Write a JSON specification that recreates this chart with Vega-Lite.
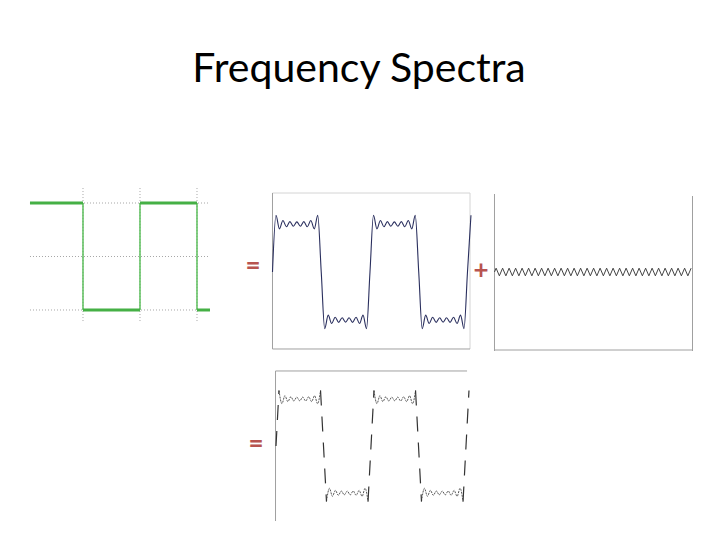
{
  "$schema": "https://vega.github.io/schema/vega-lite/v6.json",
  "padding": {"left": 24, "top": 49, "right": 0, "bottom": 0},
  "background": "#ffffff",
  "title": {"text": "Frequency Spectra", "font": "Lato", "fontSize": 41, "fontWeight": "normal", "color": "#000000", "anchor": "middle", "offset": 95},
  "spacing": 13,
  "config": {"view": {"stroke": null}},
  "datasets": {
    "p1grid": [
      {"t": 1, "v": 1.28, "t2": 1, "v2": -1.243},
      {"t": 2, "v": 1.28, "t2": 2, "v2": -1.243},
      {"t": 3, "v": 1.28, "t2": 3, "v2": -1.243},
      {"t": 0.07, "v": 1, "t2": 3.228, "v2": 1},
      {"t": 0.07, "v": 0, "t2": 3.228, "v2": 0},
      {"t": 0.07, "v": -1, "t2": 3.228, "v2": -1}
    ],
    "p1flat": [
      {"t": 0.07, "v": 1, "t2": 1, "v2": 1},
      {"t": 1, "v": -1, "t2": 2, "v2": -1},
      {"t": 2, "v": 1, "t2": 3, "v2": 1},
      {"t": 3, "v": -1, "t2": 3.228, "v2": -1}
    ],
    "p1edge": [
      {"t": 1, "v": 1, "t2": 1, "v2": -1},
      {"t": 2, "v": -1, "t2": 2, "v2": 1},
      {"t": 3, "v": 1, "t2": 3, "v2": -1}
    ],
    "p2dark": [
      {"t": 0, "v": -1.604, "t2": 0, "v2": 1.646},
      {"t": 0, "v": -1.604, "t2": 2.026, "v2": -1.604}
    ],
    "p2light": [
      {"t": 0, "v": 1.646, "t2": 2.026, "v2": 1.646},
      {"t": 2.026, "v": 1.646, "t2": 2.026, "v2": -1.604}
    ],
    "p2wave": [
      {"t": 0, "v": 0}, {"t": 0.0357, "v": 1.181}, {"t": 0.0714, "v": 0.899}, {"t": 0.1071, "v": 1.072},
      {"t": 0.1429, "v": 0.942}, {"t": 0.1786, "v": 1.05}, {"t": 0.2143, "v": 0.954}, {"t": 0.25, "v": 1.045},
      {"t": 0.2857, "v": 0.954}, {"t": 0.3214, "v": 1.05}, {"t": 0.3571, "v": 0.942}, {"t": 0.3929, "v": 1.072},
      {"t": 0.4286, "v": 0.899}, {"t": 0.4643, "v": 1.181}, {"t": 0.5, "v": 0},
      {"t": 0.5357, "v": -1.181}, {"t": 0.5714, "v": -0.899}, {"t": 0.6071, "v": -1.072}, {"t": 0.6429, "v": -0.942},
      {"t": 0.6786, "v": -1.05}, {"t": 0.7143, "v": -0.954}, {"t": 0.75, "v": -1.045}, {"t": 0.7857, "v": -0.954},
      {"t": 0.8214, "v": -1.05}, {"t": 0.8571, "v": -0.942}, {"t": 0.8929, "v": -1.072}, {"t": 0.9286, "v": -0.899},
      {"t": 0.9643, "v": -1.181}, {"t": 1, "v": 0},
      {"t": 1.0357, "v": 1.181}, {"t": 1.0714, "v": 0.899}, {"t": 1.1071, "v": 1.072}, {"t": 1.1429, "v": 0.942},
      {"t": 1.1786, "v": 1.05}, {"t": 1.2143, "v": 0.954}, {"t": 1.25, "v": 1.045}, {"t": 1.2857, "v": 0.954},
      {"t": 1.3214, "v": 1.05}, {"t": 1.3571, "v": 0.942}, {"t": 1.3929, "v": 1.072}, {"t": 1.4286, "v": 0.899},
      {"t": 1.4643, "v": 1.181}, {"t": 1.5, "v": 0},
      {"t": 1.5357, "v": -1.181}, {"t": 1.5714, "v": -0.899}, {"t": 1.6071, "v": -1.072}, {"t": 1.6429, "v": -0.942},
      {"t": 1.6786, "v": -1.05}, {"t": 1.7143, "v": -0.954}, {"t": 1.75, "v": -1.045}, {"t": 1.7857, "v": -0.954},
      {"t": 1.8214, "v": -1.05}, {"t": 1.8571, "v": -0.942}, {"t": 1.8929, "v": -1.072}, {"t": 1.9286, "v": -0.899},
      {"t": 1.9643, "v": -1.181}, {"t": 2, "v": 0}, {"t": 2.0357, "v": 1.181}
    ],
    "p2signs": [
      {"t": -0.2, "v": 0.125, "s": "="},
      {"t": 2.138, "v": 0.02, "s": "+"}
    ],
    "p3frame": [
      {"t": 0, "v": 1.625, "t2": 0, "v2": -1.646},
      {"t": 0, "v": -1.625, "t2": 2.031, "v2": -1.625},
      {"t": 2.031, "v": 1.583, "t2": 2.031, "v2": -1.646}
    ],
    "p3wave": [
      {"t": 0, "v": 0},
      {"t": 0.0167, "v": 0.08}, {"t": 0.05, "v": -0.08}, {"t": 0.0833, "v": 0.08}, {"t": 0.1167, "v": -0.08},
      {"t": 0.15, "v": 0.08}, {"t": 0.1833, "v": -0.08}, {"t": 0.2167, "v": 0.08}, {"t": 0.25, "v": -0.08},
      {"t": 0.2833, "v": 0.08}, {"t": 0.3167, "v": -0.08}, {"t": 0.35, "v": 0.08}, {"t": 0.3833, "v": -0.08},
      {"t": 0.4167, "v": 0.08}, {"t": 0.45, "v": -0.08}, {"t": 0.4833, "v": 0.08}, {"t": 0.5167, "v": -0.08},
      {"t": 0.55, "v": 0.08}, {"t": 0.5833, "v": -0.08}, {"t": 0.6167, "v": 0.08}, {"t": 0.65, "v": -0.08},
      {"t": 0.6833, "v": 0.08}, {"t": 0.7167, "v": -0.08}, {"t": 0.75, "v": 0.08}, {"t": 0.7833, "v": -0.08},
      {"t": 0.8167, "v": 0.08}, {"t": 0.85, "v": -0.08}, {"t": 0.8833, "v": 0.08}, {"t": 0.9167, "v": -0.08},
      {"t": 0.95, "v": 0.08}, {"t": 0.9833, "v": -0.08}, {"t": 1.0167, "v": 0.08}, {"t": 1.05, "v": -0.08},
      {"t": 1.0833, "v": 0.08}, {"t": 1.1167, "v": -0.08}, {"t": 1.15, "v": 0.08}, {"t": 1.1833, "v": -0.08},
      {"t": 1.2167, "v": 0.08}, {"t": 1.25, "v": -0.08}, {"t": 1.2833, "v": 0.08}, {"t": 1.3167, "v": -0.08},
      {"t": 1.35, "v": 0.08}, {"t": 1.3833, "v": -0.08}, {"t": 1.4167, "v": 0.08}, {"t": 1.45, "v": -0.08},
      {"t": 1.4833, "v": 0.08}, {"t": 1.5167, "v": -0.08}, {"t": 1.55, "v": 0.08}, {"t": 1.5833, "v": -0.08},
      {"t": 1.6167, "v": 0.08}, {"t": 1.65, "v": -0.08}, {"t": 1.6833, "v": 0.08}, {"t": 1.7167, "v": -0.08},
      {"t": 1.75, "v": 0.08}, {"t": 1.7833, "v": -0.08}, {"t": 1.8167, "v": 0.08}, {"t": 1.85, "v": -0.08},
      {"t": 1.8833, "v": 0.08}, {"t": 1.9167, "v": -0.08}, {"t": 1.95, "v": 0.08}, {"t": 1.9833, "v": -0.08},
      {"t": 2.0167, "v": 0.08}
    ],
    "p4frame": [
      {"t": -0.005, "v": 1.596, "t2": -0.005, "v2": -1.596},
      {"t": -0.005, "v": 1.596, "t2": 2.011, "v2": 1.596}
    ],
    "p4flat": [
      {"seg": 1, "t": 0.03125, "v": 1.18}, {"seg": 1, "t": 0.0625, "v": 0.9}, {"seg": 1, "t": 0.09375, "v": 1.07},
      {"seg": 1, "t": 0.125, "v": 0.944}, {"seg": 1, "t": 0.15625, "v": 1.048}, {"seg": 1, "t": 0.1875, "v": 0.957},
      {"seg": 1, "t": 0.21875, "v": 1.04}, {"seg": 1, "t": 0.25, "v": 0.96}, {"seg": 1, "t": 0.28125, "v": 1.04},
      {"seg": 1, "t": 0.3125, "v": 0.957}, {"seg": 1, "t": 0.34375, "v": 1.048}, {"seg": 1, "t": 0.375, "v": 0.944},
      {"seg": 1, "t": 0.40625, "v": 1.07}, {"seg": 1, "t": 0.4375, "v": 0.9}, {"seg": 1, "t": 0.46875, "v": 1.18},
      {"seg": 2, "t": 0.53125, "v": -1.18}, {"seg": 2, "t": 0.5625, "v": -0.9}, {"seg": 2, "t": 0.59375, "v": -1.07},
      {"seg": 2, "t": 0.625, "v": -0.944}, {"seg": 2, "t": 0.65625, "v": -1.048}, {"seg": 2, "t": 0.6875, "v": -0.957},
      {"seg": 2, "t": 0.71875, "v": -1.04}, {"seg": 2, "t": 0.75, "v": -0.96}, {"seg": 2, "t": 0.78125, "v": -1.04},
      {"seg": 2, "t": 0.8125, "v": -0.957}, {"seg": 2, "t": 0.84375, "v": -1.048}, {"seg": 2, "t": 0.875, "v": -0.944},
      {"seg": 2, "t": 0.90625, "v": -1.07}, {"seg": 2, "t": 0.9375, "v": -0.9}, {"seg": 2, "t": 0.96875, "v": -1.18},
      {"seg": 3, "t": 1.03125, "v": 1.18}, {"seg": 3, "t": 1.0625, "v": 0.9}, {"seg": 3, "t": 1.09375, "v": 1.07},
      {"seg": 3, "t": 1.125, "v": 0.944}, {"seg": 3, "t": 1.15625, "v": 1.048}, {"seg": 3, "t": 1.1875, "v": 0.957},
      {"seg": 3, "t": 1.21875, "v": 1.04}, {"seg": 3, "t": 1.25, "v": 0.96}, {"seg": 3, "t": 1.28125, "v": 1.04},
      {"seg": 3, "t": 1.3125, "v": 0.957}, {"seg": 3, "t": 1.34375, "v": 1.048}, {"seg": 3, "t": 1.375, "v": 0.944},
      {"seg": 3, "t": 1.40625, "v": 1.07}, {"seg": 3, "t": 1.4375, "v": 0.9}, {"seg": 3, "t": 1.46875, "v": 1.18},
      {"seg": 4, "t": 1.53125, "v": -1.18}, {"seg": 4, "t": 1.5625, "v": -0.9}, {"seg": 4, "t": 1.59375, "v": -1.07},
      {"seg": 4, "t": 1.625, "v": -0.944}, {"seg": 4, "t": 1.65625, "v": -1.048}, {"seg": 4, "t": 1.6875, "v": -0.957},
      {"seg": 4, "t": 1.71875, "v": -1.04}, {"seg": 4, "t": 1.75, "v": -0.96}, {"seg": 4, "t": 1.78125, "v": -1.04},
      {"seg": 4, "t": 1.8125, "v": -0.957}, {"seg": 4, "t": 1.84375, "v": -1.048}, {"seg": 4, "t": 1.875, "v": -0.944},
      {"seg": 4, "t": 1.90625, "v": -1.07}, {"seg": 4, "t": 1.9375, "v": -0.9}, {"seg": 4, "t": 1.96875, "v": -1.18}
    ],
    "p4edge": [
      {"seg": 0, "t": 0, "v": 0}, {"seg": 0, "t": 0.03125, "v": 1.18},
      {"seg": 1, "t": 0.46875, "v": 1.18}, {"seg": 1, "t": 0.5, "v": 0}, {"seg": 1, "t": 0.53125, "v": -1.18},
      {"seg": 2, "t": 0.96875, "v": -1.18}, {"seg": 2, "t": 1, "v": 0}, {"seg": 2, "t": 1.03125, "v": 1.18},
      {"seg": 3, "t": 1.46875, "v": 1.18}, {"seg": 3, "t": 1.5, "v": 0}, {"seg": 3, "t": 1.53125, "v": -1.18},
      {"seg": 4, "t": 1.96875, "v": -1.18}, {"seg": 4, "t": 2, "v": 0}, {"seg": 4, "t": 2.03125, "v": 1.18}
    ],
    "p4signs": [
      {"t": -0.21, "v": 0.043, "s": "="}
    ]
  },
  "vconcat": [
    {
      "spacing": 0,
      "bounds": "flush",
      "hconcat": [
        {
          "width": 248,
          "height": 167,
          "encoding": {
            "x": {"field": "t", "type": "quantitative", "scale": {"domain": [-0.035, 4.316], "nice": false, "zero": false}, "axis": null},
            "y": {"field": "v", "type": "quantitative", "scale": {"domain": [-1.804, 1.318], "nice": false, "zero": false}, "axis": null}
          },
          "layer": [
            {"data": {"name": "p1grid"}, "mark": {"type": "rule", "color": "#a6a6a6", "strokeDash": [1, 2], "strokeWidth": 1}, "encoding": {"x2": {"field": "t2"}, "y2": {"field": "v2"}}},
            {"data": {"name": "p1edge"}, "mark": {"type": "rule", "color": "#5cbf5c", "strokeWidth": 1.5}, "encoding": {"x2": {"field": "t2"}, "y2": {"field": "v2"}}},
            {"data": {"name": "p1flat"}, "mark": {"type": "rule", "color": "#45b045", "strokeWidth": 3}, "encoding": {"x2": {"field": "t2"}, "y2": {"field": "v2"}}}
          ]
        },
        {
          "width": 222,
          "height": 167,
          "encoding": {
            "x": {"field": "t", "type": "quantitative", "scale": {"domain": [-0.005, 2.272], "nice": false, "zero": false}, "axis": null},
            "y": {"field": "v", "type": "quantitative", "scale": {"domain": [-1.6875, 1.792], "nice": false, "zero": false}, "axis": null}
          },
          "layer": [
            {"data": {"name": "p2light"}, "mark": {"type": "rule", "color": "#d4d4d4", "strokeWidth": 1}, "encoding": {"x2": {"field": "t2"}, "y2": {"field": "v2"}}},
            {"data": {"name": "p2dark"}, "mark": {"type": "rule", "color": "#a0a0a0", "strokeWidth": 1}, "encoding": {"x2": {"field": "t2"}, "y2": {"field": "v2"}}},
            {"data": {"name": "p2wave"}, "mark": {"type": "line", "color": "#2a2f5e", "strokeWidth": 1.1, "interpolate": "monotone"}},
            {"data": {"name": "p2signs"}, "mark": {"type": "text", "color": "#b85450", "fontSize": 26, "font": "Lato", "fontWeight": "bold"}, "encoding": {"text": {"field": "s"}}}
          ]
        },
        {
          "width": 200,
          "height": 167,
          "encoding": {
            "x": {"field": "t", "type": "quantitative", "scale": {"domain": [-0.005, 2.0463], "nice": false, "zero": false}, "axis": null},
            "y": {"field": "v", "type": "quantitative", "scale": {"domain": [-1.6875, 1.792], "nice": false, "zero": false}, "axis": null}
          },
          "layer": [
            {"data": {"name": "p3frame"}, "mark": {"type": "rule", "color": "#a0a0a0", "strokeWidth": 1}, "encoding": {"x2": {"field": "t2"}, "y2": {"field": "v2"}}},
            {"data": {"name": "p3wave"}, "mark": {"type": "line", "color": "#444444", "strokeWidth": 1}}
          ]
        }
      ]
    },
    {
      "width": 446,
      "height": 160,
      "encoding": {
        "x": {"field": "t", "type": "quantitative", "scale": {"domain": [-2.6526, 2.042], "nice": false, "zero": false}, "axis": null},
        "y": {"field": "v", "type": "quantitative", "scale": {"domain": [-1.702, 1.702], "nice": false, "zero": false}, "axis": null}
      },
      "layer": [
        {"data": {"name": "p4frame"}, "mark": {"type": "rule", "color": "#a0a0a0", "strokeWidth": 1}, "encoding": {"x2": {"field": "t2"}, "y2": {"field": "v2"}}},
        {"data": {"name": "p4flat"}, "mark": {"type": "line", "color": "#444444", "strokeWidth": 0.9, "strokeDash": [2, 1], "interpolate": "monotone"}, "encoding": {"detail": {"field": "seg"}}},
        {"data": {"name": "p4edge"}, "mark": {"type": "line", "color": "#333333", "strokeWidth": 1.2, "strokeDash": [15, 11]}, "encoding": {"detail": {"field": "seg"}}},
        {"data": {"name": "p4signs"}, "mark": {"type": "text", "color": "#b85450", "fontSize": 26, "font": "Lato", "fontWeight": "bold"}, "encoding": {"text": {"field": "s"}}}
      ]
    }
  ]
}
